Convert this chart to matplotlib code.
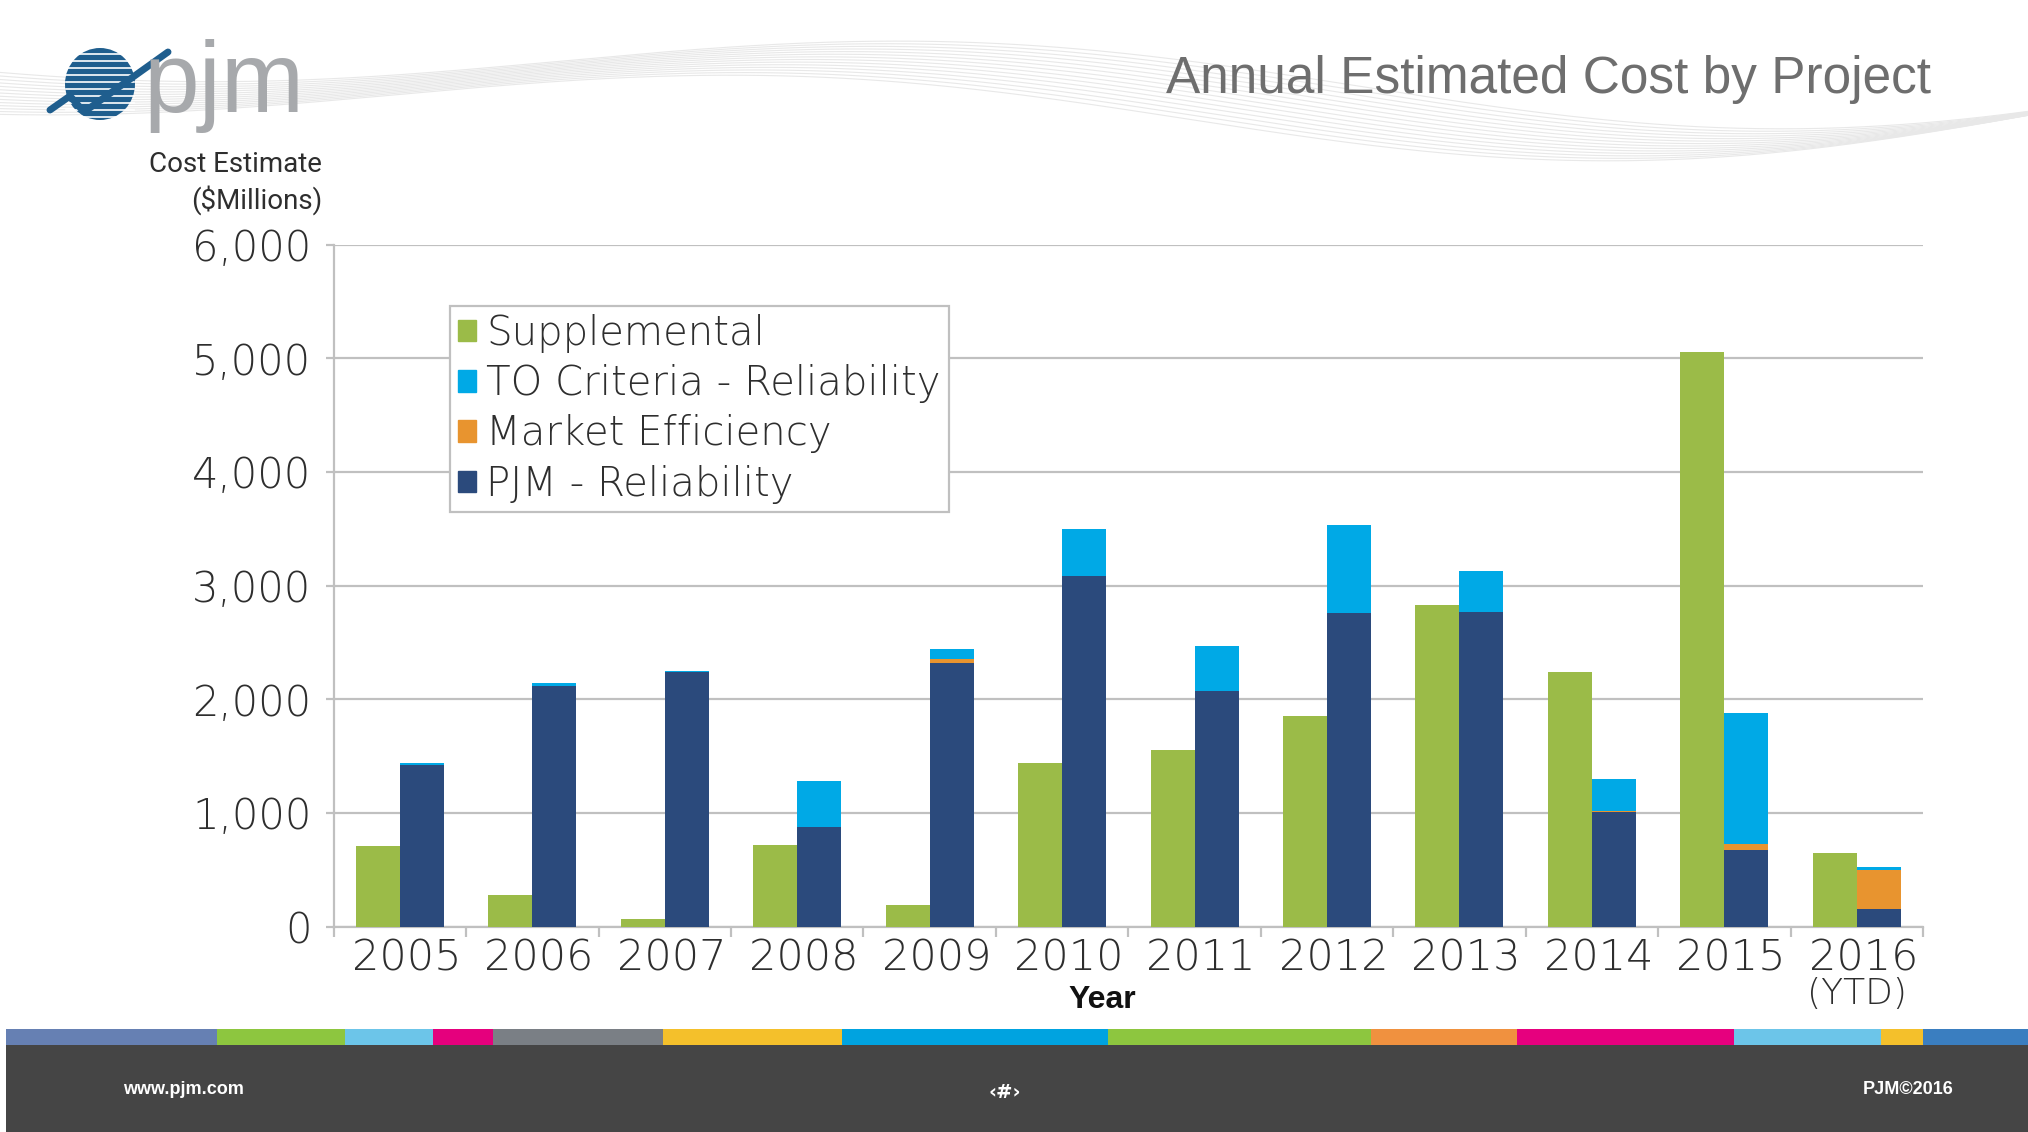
import numpy as np
import matplotlib
matplotlib.use("Agg")
import matplotlib.pyplot as plt
from matplotlib.patches import Rectangle, Ellipse, Patch
from matplotlib.transforms import blended_transform_factory

years = ['2005', '2006', '2007', '2008', '2009', '2010', '2011', '2012',
         '2013', '2014', '2015', '2016']
supplemental = [705, 280, 65, 720, 190, 1440, 1555, 1850, 2830, 2235, 5050, 645]
pjm_reliability = [1425, 2120, 2235, 877, 2320, 3080, 2070, 2755, 2770, 1010, 670, 150]
market_efficiency = [0, 0, 0, 0, 30, 0, 0, 0, 0, 10, 60, 345]
to_criteria = [15, 25, 15, 400, 95, 415, 400, 780, 360, 280, 1145, 30]

c_green = '#9BBB48'
c_blue = '#00A9E6'
c_orange = '#E8942F'
c_navy = '#2B4A7C'
c_grid = '#C0C0C0'
c_text = '#2E2E2E'
tick_font = 'DejaVu Sans'

W, H = 2028, 1132
fig = plt.figure(figsize=(W / 100, H / 100), dpi=100)
fig.patch.set_facecolor('white')

# decoration layer in pixel coordinates
deco = fig.add_axes([0, 0, 1, 1], zorder=-1)
deco.set_xlim(0, W)
deco.set_ylim(H, 0)
deco.axis('off')

# faint wave lines in header
t = np.linspace(0, W, 400)
for k in range(14):
    yy = 70 + 35 * np.sin(t / 260 + 0.9 + k * 0.05) + k * 2.5 - 25 * np.cos(t / 520 + k * 0.03)
    deco.plot(t, yy, color='#E8E8E8', lw=0.8, zorder=0)

# footer stripe and band
stripe = [(6, 217, '#6680B3'), (217, 345, '#8DC63F'), (345, 433, '#6CC5E9'),
          (433, 493, '#E5007D'), (493, 663, '#7A7F85'), (663, 842, '#F4C02B'),
          (842, 1108, '#00A3E0'), (1108, 1371, '#8DC63F'), (1371, 1517, '#F0913F'),
          (1517, 1734, '#E6007E'), (1734, 1881, '#6CC5E9'), (1881, 1923, '#F4C02B'),
          (1923, 2028, '#3A7EC0')]
for x0, x1, col in stripe:
    deco.add_patch(Rectangle((x0, 1029), x1 - x0, 16, color=col, lw=0))
deco.add_patch(Rectangle((6, 1045), W - 6, H - 1045, color='#454545', lw=0))
deco.text(123, 1090, 'www.pjm.com', color='white', fontsize=13, fontweight='bold',
          family='Liberation Sans', va='center', ha='left')
deco.text(1005, 1092, '\u2039#\u203a', color='white', fontsize=14, fontweight='bold',
          family='DejaVu Sans', va='center', ha='center')
deco.text(1954, 1090, 'PJM\u00a92016', color='white', fontsize=13, fontweight='bold',
          family='Liberation Sans', va='center', ha='right')

# logo
deco.add_patch(Ellipse((100, 84), 70, 72, color='#1F5E8E', lw=0))
for yy in range(54, 118, 7):
    deco.plot([66, 134], [yy, yy], color='white', lw=1.2)
deco.plot([50, 70, 84, 168], [110, 96, 112, 52], color='#1F5E8E', lw=5, solid_capstyle='round')
deco.text(144, 112, 'pjm', color='#A7A9AC', fontsize=72,
          family='Liberation Sans', va='baseline', ha='left')

# title and axis captions
deco.text(1931, 80, 'Annual Estimated Cost by Project', color='#6E6E6E', fontsize=37,
          family='Liberation Sans', va='center', ha='right')
deco.text(322, 165, 'Cost Estimate', color=c_text, fontsize=20, family='Roboto',
          va='center', ha='right')
deco.text(322, 200, '($Millions)', color=c_text, fontsize=20, family='Roboto',
          va='center', ha='right')

# main chart
ax = fig.add_axes([333.7 / W, 1 - 926.5 / H, (1923 - 333.7) / W, (926.5 - 244.5) / H])
ax.set_facecolor('none')
x = np.arange(len(years))
bw = 0.332
base2 = np.array(pjm_reliability)
base3 = base2 + np.array(market_efficiency)
ax.bar(x - bw / 2, supplemental, bw, color=c_green, zorder=3, label='Supplemental')
ax.bar(x + bw / 2, pjm_reliability, bw, color=c_navy, zorder=3, label='PJM - Reliability')
ax.bar(x + bw / 2, market_efficiency, bw, bottom=base2, color=c_orange, zorder=3,
       label='Market Efficiency')
ax.bar(x + bw / 2, to_criteria, bw, bottom=base3, color=c_blue, zorder=3,
       label='TO Criteria - Reliability')

ax.set_xlim(-0.5, len(years) - 0.5)
ax.set_ylim(0, 6000)
ax.set_yticks(range(0, 6001, 1000))
ax.set_yticklabels([f'{v:,}' for v in range(0, 6001, 1000)])
ax.set_xticks(x + 0.05)
ax.set_xticklabels(years)
ax.set_xticks(np.arange(-0.5, len(years)), minor=True)
ax.yaxis.grid(True, color=c_grid, lw=1.6, zorder=0)
ax.set_axisbelow(True)
for s in ['top', 'right']:
    ax.spines[s].set_visible(False)
for s in ['left', 'bottom']:
    ax.spines[s].set_color(c_grid)
    ax.spines[s].set_linewidth(1.6)
ax.tick_params(axis='y', length=6, color=c_grid, width=1.6, pad=10,
               labelsize=30, labelcolor=c_text)
ax.tick_params(axis='x', which='major', length=0, pad=8, labelsize=31, labelcolor=c_text)
ax.tick_params(axis='x', which='minor', length=7, color=c_grid, width=1.6)
for lab in ax.get_xticklabels() + ax.get_yticklabels():
    lab.set_family(tick_font)
    lab.set_fontweight('light')

trans = blended_transform_factory(ax.transData, fig.transFigure)
ax.text(x[-1], 1 - 994 / H, '(YTD)', transform=trans, fontsize=26,
        family=tick_font, fontweight='light', color=c_text, ha='center', va='center')

fig.text(1102 / W, 1 - 1000 / H, 'Year', fontsize=23, fontweight='bold', color='#111111',
         family='Liberation Sans', ha='center', va='center')

handles = [Patch(color=c) for c in [c_green, c_blue, c_orange, c_navy]]
labels = ['Supplemental', 'TO Criteria - Reliability', 'Market Efficiency', 'PJM - Reliability']
leg = ax.legend(handles, labels, loc='upper left', bbox_to_anchor=(0.073, 0.91),
                borderaxespad=0, fancybox=False, framealpha=1, edgecolor=c_grid,
                prop={'family': tick_font, 'size': 29, 'weight': 'light'},
                handlelength=0.45, handleheight=0.45,
                handletextpad=0.25, labelspacing=0.28, borderpad=0.2)
leg.get_frame().set_linewidth(1.6)
for txt in leg.get_texts():
    txt.set_color(c_text)

fig.savefig('out.png', dpi=100, facecolor='white')
